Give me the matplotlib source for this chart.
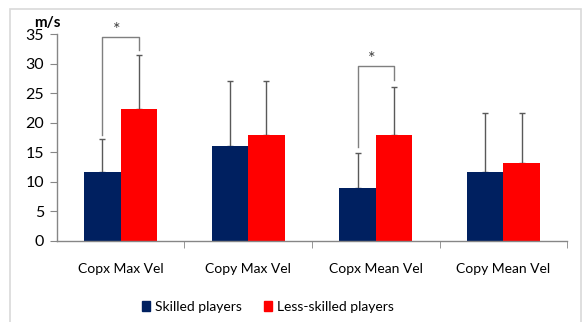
import numpy as np
import matplotlib
matplotlib.use("Agg")
import matplotlib.pyplot as plt
from matplotlib.patches import Patch, Rectangle

plt.rcParams["font.family"] = ["Lato", "DejaVu Sans"]

# data
categories = ["Copx Max Vel", "Copy Max Vel", "Copx Mean Vel", "Copy Mean Vel"]
skilled = [11.7, 16.0, 8.9, 11.6]
skilled_sd = [5.6, 11.1, 5.9, 10.1]
less_skilled = [22.4, 17.9, 17.9, 13.2]
less_skilled_sd = [9.1, 9.2, 8.1, 8.4]
series_names = ["Skilled players", "Less-skilled players"]
yticks = [0, 5, 10, 15, 20, 25, 30, 35]

# significance brackets: (category index, top, left leg bottom, right leg bottom)
sig_brackets = [(0, 34.6, 17.9, 32.3), (2, 29.7, 15.9, 27.2)]

navy = "#002060"
red = "#ff0000"
err_col = "#595959"
axis_col = "#868686"

fig = plt.figure(figsize=(5.85, 3.22), dpi=100)
fig.patches.append(Rectangle((10 / 585, -0.05), 570.5 / 585, 1.05 - 9 / 322,
                             transform=fig.transFigure, fill=False,
                             edgecolor="#d9d9d9", linewidth=1.2))

ax = fig.add_axes([56.7 / 585, 81.3 / 322, 510.5 / 585, 206.4 / 322])

x = np.arange(len(categories))
w = 0.285
ax.bar(x - w / 2, skilled, w, color=navy, zorder=2)
ax.bar(x + w / 2, less_skilled, w, color=red, zorder=2)

zeros = np.zeros(len(categories))
ax.errorbar(x - w / 2, skilled, yerr=[zeros, skilled_sd], fmt="none",
            ecolor=err_col, elinewidth=1, capsize=2, capthick=1, zorder=1)
ax.errorbar(x + w / 2, less_skilled, yerr=[zeros, less_skilled_sd], fmt="none",
            ecolor=err_col, elinewidth=1, capsize=2, capthick=1, zorder=1)

for i, top, lb, rb in sig_brackets:
    xl, xr = i - w / 2, i + w / 2
    ax.plot([xl, xl, xr, xr], [lb, top, top, rb], color="#7f7f7f", lw=1,
            clip_on=False, zorder=3)
    ax.text(i - 0.03, top - 0.2, "*", ha="center", va="bottom", fontsize=13,
            color="#404040", clip_on=False)

ax.set_xlim(-0.5, len(categories) - 0.5)
ax.set_ylim(0, 35)
ax.set_yticks(yticks)
ax.set_xticks(x)
ax.set_xticklabels(categories)
ax.set_xticks(np.arange(len(categories)) + 0.5, minor=True)
ax.tick_params(axis="x", which="major", length=0, pad=16, labelsize=10)
ax.tick_params(axis="x", which="minor", length=5, color=axis_col, direction="out")
ax.tick_params(axis="y", length=5, color=axis_col, labelsize=11.5, pad=4)

for s in ["top", "right"]:
    ax.spines[s].set_visible(False)
for s in ["left", "bottom"]:
    ax.spines[s].set_color(axis_col)
    ax.spines[s].set_linewidth(1)

fig.text(47 / 585, 1 - 22.7 / 322, "m/s", ha="center", va="center",
         fontsize=11, fontweight="bold")

handles = [Patch(color=navy), Patch(color=red)]
fig.legend(handles, series_names, loc="center", bbox_to_anchor=(268 / 585, 15.3 / 322),
           ncol=2, frameon=False, fontsize=10, handlelength=0.6, handleheight=0.7,
           handletextpad=0.35, columnspacing=1.6)

fig.savefig("out.png", dpi=100)
